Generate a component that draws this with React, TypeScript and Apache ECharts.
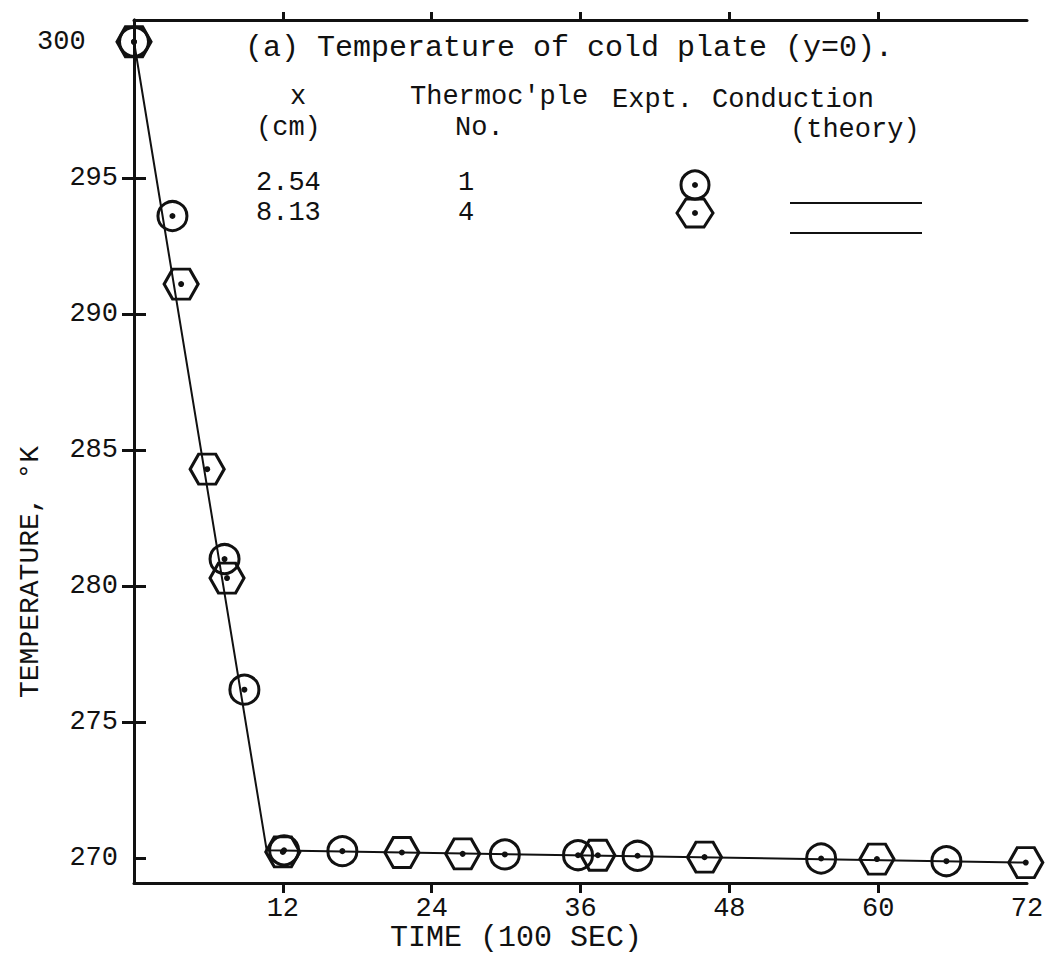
import React, { useEffect, useRef } from "react";
import * as echarts from "echarts";

// ---- data ----
const tc1Time = [0, 3.1, 7.3, 8.9, 12.1, 16.8, 29.9, 35.8, 40.6, 55.4, 65.5];
const tc1Temp = [300, 293.6, 281.0, 276.2, 270.3, 270.27, 270.15, 270.12, 270.1, 270.0, 269.9];
const tc4Time = [0, 3.8, 5.9, 7.5, 12.0, 21.6, 26.5, 37.4, 46.0, 59.9, 71.9];
const tc4Temp = [300, 291.1, 284.3, 280.3, 270.24, 270.22, 270.17, 270.12, 270.05, 269.98, 269.85];
const theoryTime = [0, 10.7, 72];
const theoryTemp = [300, 270.3, 269.85];
const yTickValues = [270, 275, 280, 285, 290, 295, 300];
const xTickValues = [12, 24, 36, 48, 60];

const FONT = "Liberation Mono";
const INK = "#111";
const HEX = "path://M0,50 L25,6 L75,6 L100,50 L75,94 L25,94 Z";

const pairs = (xs: number[], ys: number[]) => xs.map((x, i) => [x, ys[i]]);

export default function App() {
  const ref = useRef<HTMLDivElement>(null);
  useEffect(() => {
    document.body.style.margin = "0";
    const chart = echarts.init(ref.current!, null, { renderer: "svg" });
    const axisLine = { show: true, lineStyle: { color: INK, width: 3 } };
    const tickStyle = { color: INK, width: 3 };
    const hollow = { color: "rgba(0,0,0,0)", borderColor: INK, borderWidth: 3, opacity: 1 };
    const dot = (data: number[][]) => ({
      type: "scatter",
      data,
      symbol: "circle",
      symbolSize: 6,
      itemStyle: { color: INK, opacity: 1 },
      clip: false,
      z: 5,
    });
    const t = (text: string, x: number, y: number, size = 27, align = "left") => ({
      type: "text",
      x,
      y,
      style: {
        text,
        font: `${size}px "${FONT}"`,
        fill: INK,
        align,
        verticalAlign: "middle",
        lineHeight: 22,
      },
    });
    chart.setOption({
      animation: false,
      backgroundColor: "#fff",
      grid: { left: 134, right: 20, top: 20, bottom: 80 },
      xAxis: [
        {
          type: "value",
          min: 0,
          max: 72,
          interval: 12,
          position: "bottom",
          axisLine,
          splitLine: { show: false },
          axisTick: { show: true, inside: false, length: 10, lineStyle: tickStyle, customValues: xTickValues },
          axisLabel: {
            show: true,
            margin: 12,
            fontFamily: FONT,
            fontSize: 27,
            color: INK,
            formatter: (v: number) => (v === 0 ? "" : String(v)),
          },
        },
        {
          type: "value",
          min: 0,
          max: 72,
          interval: 12,
          position: "top",
          axisLine,
          splitLine: { show: false },
          axisTick: { show: true, inside: false, length: 8, lineStyle: tickStyle, customValues: xTickValues },
          axisLabel: { show: false },
        },
      ],
      yAxis: [
        {
          type: "value",
          min: 269.1,
          max: 300.8,
          position: "left",
          axisLine,
          splitLine: { show: false },
          axisTick: { show: true, inside: true, length: 12, lineStyle: tickStyle, customValues: yTickValues.slice(0, 6) },
          axisLabel: {
            show: true,
            margin: 16,
            fontFamily: FONT,
            fontSize: 27,
            color: INK,
            customValues: yTickValues,
            formatter: (v: number) => (v === 300 ? "300  " : String(v)),
          },
        },
        {
          type: "value",
          min: 269.1,
          max: 300.8,
          position: "right",
          axisLine,
          splitLine: { show: false },
          axisTick: { show: true, inside: true, length: 12, lineStyle: tickStyle, customValues: yTickValues.slice(1, 6) },
          axisLabel: { show: false },
        },
      ],
      series: [
        {
          name: "Conduction (theory)",
          type: "line",
          data: pairs(theoryTime, theoryTemp),
          showSymbol: false,
          symbol: "none",
          lineStyle: { color: INK, width: 2 },
          clip: false,
          z: 2,
        },
        {
          name: "Thermocouple 1 (x = 2.54 cm)",
          type: "scatter",
          data: pairs(tc1Time, tc1Temp),
          symbol: "circle",
          symbolSize: 29,
          itemStyle: hollow,
          clip: false,
          z: 4,
        },
        {
          name: "Thermocouple 4 (x = 8.13 cm)",
          type: "scatter",
          data: pairs(tc4Time, tc4Temp),
          symbol: HEX,
          symbolSize: [34, 30],
          itemStyle: hollow,
          clip: false,
          z: 4,
        },
        dot(pairs(tc1Time, tc1Temp)),
        dot(pairs(tc4Time, tc4Temp)),
      ],
      graphic: [
        t("(a) Temperature of cold plate (y=0).", 245, 48, 30),
        t("x", 290, 97),
        t("(cm)", 256, 128),
        t("Thermoc'ple", 410, 97),
        t("No.", 455, 128),
        t("Expt.", 612, 100),
        t("Conduction", 712, 100),
        t("(theory)", 790, 130),
        t("2.54", 256, 183),
        t("1", 458, 183),
        t("8.13", 256, 213),
        t("4", 458, 213),
        { type: "circle", shape: { cx: 695, cy: 185, r: 14 }, style: { fill: "none", stroke: INK, lineWidth: 3 } },
        { type: "circle", shape: { cx: 695, cy: 185, r: 3 }, style: { fill: INK } },
        {
          type: "polygon",
          shape: { points: [[677, 213], [686, 199], [704, 199], [713, 213], [704, 227], [686, 227]] },
          style: { fill: "none", stroke: INK, lineWidth: 3 },
        },
        { type: "circle", shape: { cx: 695, cy: 213, r: 3 }, style: { fill: INK } },
        { type: "line", shape: { x1: 790, y1: 203, x2: 922, y2: 203 }, style: { stroke: INK, lineWidth: 2 } },
        { type: "line", shape: { x1: 790, y1: 233, x2: 922, y2: 233 }, style: { stroke: INK, lineWidth: 2 } },
        t("TIME (100 SEC)", 390, 938, 30),
        {
          type: "text",
          x: 30,
          y: 572,
          rotation: Math.PI / 2,
          style: { text: "TEMPERATURE, \u00B0K", font: `28px "${FONT}"`, fill: INK, align: "center", verticalAlign: "middle" },
        },
      ],
    });
    return () => chart.dispose();
  }, []);
  return <div ref={ref} style={{ position: "fixed", left: 0, top: 0, width: 1047, height: 963 }} />;
}
